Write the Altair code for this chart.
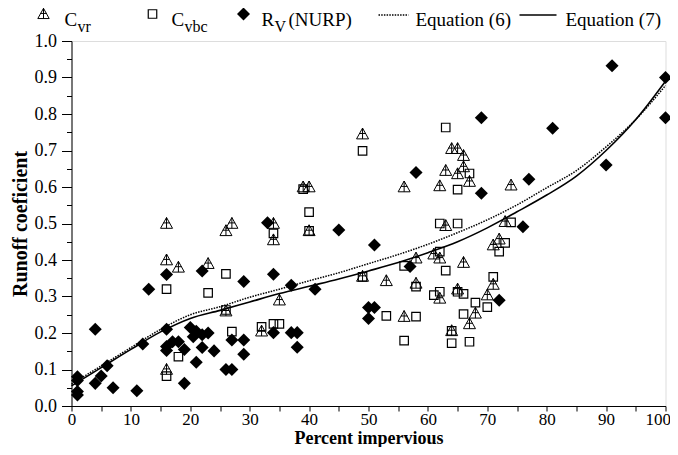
import altair as alt
import pandas as pd

# ---------------- data ----------------
cvr_x = [16, 16, 18, 23, 16, 26, 27, 26, 32, 34, 34, 35, 39, 40, 40, 49, 49, 53, 56, 56,
         58, 58, 61, 62, 62, 62, 63, 63, 64, 64, 65, 65, 65, 66, 66, 66, 67, 67, 68, 70,
         71, 71, 72, 73, 74]
cvr_y = [0.50, 0.40, 0.38, 0.39, 0.10, 0.48, 0.50, 0.26, 0.205, 0.50, 0.455, 0.29, 0.60, 0.60, 0.48, 0.745, 0.355, 0.343, 0.60, 0.245,
         0.405, 0.336, 0.416, 0.405, 0.603, 0.295, 0.645, 0.494, 0.705, 0.206, 0.705, 0.636, 0.32, 0.686, 0.655, 0.393, 0.615, 0.225, 0.254, 0.304,
         0.441, 0.333, 0.457, 0.505, 0.605]

cvbc_x = [16, 16, 18, 23, 26, 26, 27, 32, 34, 34, 35, 39, 40, 40, 49, 49, 53, 56, 56, 58,
          58, 61, 62, 62, 62, 63, 63, 64, 64, 65, 65, 65, 66, 66, 67, 67, 68, 70, 71, 72,
          73, 74]
cvbc_y = [0.32, 0.082, 0.135, 0.31, 0.362, 0.263, 0.204, 0.217, 0.473, 0.225, 0.225, 0.594, 0.531, 0.48, 0.699, 0.354, 0.247, 0.384, 0.179, 0.327,
          0.245, 0.304, 0.423, 0.50, 0.313, 0.763, 0.371, 0.206, 0.172, 0.593, 0.50, 0.313, 0.307, 0.252, 0.637, 0.176, 0.283, 0.271, 0.354, 0.423,
          0.447, 0.503]

rv_x = [1, 1, 1, 1, 4, 4, 5, 6, 7, 11, 12, 13, 16, 16, 16, 16, 17, 18, 19, 19,
        20, 21, 22, 23, 20.5, 21, 22, 22, 24, 26, 27, 27, 29, 29, 29, 33, 34, 34, 37, 37,
        38, 38, 41, 45, 50, 51, 50, 51, 57, 58, 69, 69, 72, 76, 77, 81, 90, 91, 100, 100]
rv_y = [0.08, 0.07, 0.04, 0.03, 0.21, 0.062, 0.082, 0.11, 0.05, 0.042, 0.17, 0.32, 0.36, 0.21, 0.163, 0.152, 0.176, 0.176, 0.155, 0.062,
        0.215, 0.205, 0.195, 0.20, 0.19, 0.12, 0.37, 0.16, 0.151, 0.10, 0.10, 0.181, 0.181, 0.142, 0.341, 0.502, 0.361, 0.201, 0.331, 0.201,
        0.201, 0.161, 0.32, 0.482, 0.27, 0.27, 0.24, 0.441, 0.382, 0.64, 0.79, 0.583, 0.29, 0.491, 0.621, 0.761, 0.66, 0.932, 0.90, 0.79]

eq_x = [0, 5, 10, 15, 20, 25, 30, 35, 40, 45, 50, 55, 60, 65, 70, 75, 80, 85, 90, 95, 100]
eq6_y = [0.06, 0.11, 0.16, 0.21, 0.25, 0.272, 0.298, 0.32, 0.343, 0.365, 0.39, 0.415, 0.443, 0.475, 0.51, 0.551, 0.598, 0.645, 0.71, 0.785, 0.878]
eq7_y = [0.055, 0.105, 0.155, 0.203, 0.24, 0.262, 0.285, 0.308, 0.328, 0.348, 0.37, 0.393, 0.42, 0.45, 0.488, 0.532, 0.578, 0.63, 0.70, 0.785, 0.89]

x_tick_values = [0, 5, 10, 15, 20, 25, 30, 35, 40, 45, 50, 55, 60, 65, 70, 75, 80, 85, 90, 95, 100]
y_tick_values = [0, 0.05, 0.1, 0.15, 0.2, 0.25, 0.3, 0.35, 0.4, 0.45, 0.5, 0.55, 0.6, 0.65, 0.7, 0.75, 0.8, 0.85, 0.9, 0.95, 1.0]

# ---------------- styling ----------------
FONT = "Liberation Serif"
W, H = 594, 365
TRI = "M0,-1L1,0.8L-1,0.8Z M0,-1L0,0.8 M-0.55,-0.1L0.55,-0.1"

x_axis = alt.Axis(
    values=x_tick_values,
    labelExpr="datum.value % 10 === 0 ? datum.label : ''",
    labelAlign={"condition": {"test": "datum.value === 100", "value": "right"}, "value": "center"},
    labelOffset={"condition": {"test": "datum.value === 100", "value": 5}, "value": 0},
    title="Percent impervious",
    tickSize=5, labelPadding=0,
    titleY=37, titleBaseline="alphabetic",
    labelFont=FONT, labelFontSize=17, titleFont=FONT, titleFontSize=18,
    titleFontWeight="bold", labelColor="black", titleColor="black",
    domainColor="black", tickColor="black", grid=False, labelFlush=False,
)
y_axis = alt.Axis(
    values=y_tick_values,
    format=".1f",
    labelExpr="round(datum.value * 100) % 10 === 0 ? datum.label : ''",
    title="Runoff coeficient",
    tickSize={"condition": {"test": "round(datum.value * 100) % 10 === 0", "value": 10}, "value": 5},
    labelPadding=5, titlePadding=4,
    labelFont=FONT, labelFontSize=18, titleFont=FONT, titleFontSize=20,
    titleFontWeight="bold", labelColor="black", titleColor="black",
    domainColor="black", tickColor="black", grid=False, labelFlush=False,
)
X = alt.X("x:Q", scale=alt.Scale(domain=[0, 100], nice=False, zero=False), axis=x_axis)
Y = alt.Y("y:Q", scale=alt.Scale(domain=[0, 1], nice=False), axis=y_axis)


def df(xs, ys):
    return pd.DataFrame({"x": xs, "y": ys})


eq6 = alt.Chart(df(eq_x, eq6_y)).mark_line(
    color="black", strokeWidth=1.5, strokeDash=[1.5, 1.2], interpolate="monotone"
).encode(x=X, y=Y)
eq7 = alt.Chart(df(eq_x, eq7_y)).mark_line(
    color="black", strokeWidth=1.6, interpolate="monotone"
).encode(x=X, y=Y)
squares = alt.Chart(df(cvbc_x, cvbc_y)).mark_point(
    shape="square", filled=False, stroke="black", strokeWidth=1.2, size=72, opacity=1
).encode(x=X, y=Y)
tris = alt.Chart(df(cvr_x, cvr_y)).mark_point(
    shape=TRI, filled=False, stroke="black", strokeWidth=1, size=144, opacity=1
).encode(x=X, y=Y)
diamonds = alt.Chart(df(rv_x, rv_y)).mark_point(
    shape="diamond", filled=True, color="black", size=170, opacity=1
).encode(x=X, y=Y)

# ---------------- legend (drawn above the plot) ----------------
one = alt.Data(values=[{"k": 0}])
LY = -27      # icon centre (relative to plot top)
TB = -15      # text baseline
SB = -9       # subscript baseline


def txt(t, px, py, size=19):
    return alt.Chart(one).mark_text(
        text=t, font=FONT, fontSize=size, align="left", baseline="alphabetic", color="black"
    ).encode(x=alt.value(px), y=alt.value(py))


legend = [
    alt.Chart(one).mark_point(shape=TRI, filled=False, stroke="black", strokeWidth=1, size=130, opacity=1)
    .encode(x=alt.value(-28), y=alt.value(LY)),
    txt("C", -7, TB), txt("vr", 6, SB, 16),
    alt.Chart(one).mark_point(shape="square", filled=False, stroke="black", strokeWidth=1.2, size=72, opacity=1)
    .encode(x=alt.value(81), y=alt.value(LY)),
    txt("C", 100, TB), txt("vbc", 113, SB, 16),
    alt.Chart(one).mark_point(shape="diamond", filled=True, color="black", size=170, opacity=1)
    .encode(x=alt.value(172), y=alt.value(LY)),
    txt("R", 190, TB), txt("V", 203, SB, 16), txt("(NURP)", 217, TB),
    alt.Chart(one).mark_rule(color="black", strokeWidth=1.3, strokeDash=[1.5, 1.2])
    .encode(x=alt.value(307), x2=alt.value(337), y=alt.value(LY + 1)),
    txt("Equation (6)", 344, TB),
    alt.Chart(one).mark_rule(color="black", strokeWidth=1.6)
    .encode(x=alt.value(448), x2=alt.value(485), y=alt.value(LY + 1)),
    txt("Equation (7)", 494, TB),
]

chart = alt.layer(eq6, eq7, squares, tris, diamonds, *legend).properties(
    width=W, height=H,
    autosize=alt.AutoSizeParams(type="none"),
    padding={"left": 63.5, "top": 33, "right": 4, "bottom": 41},
).configure_view(
    stroke="black", strokeWidth=1
).configure_axis(
    labelFont=FONT, titleFont=FONT
).configure(background="white")

chart.save("out.html", embed_options={"renderer": "svg", "actions": False})
